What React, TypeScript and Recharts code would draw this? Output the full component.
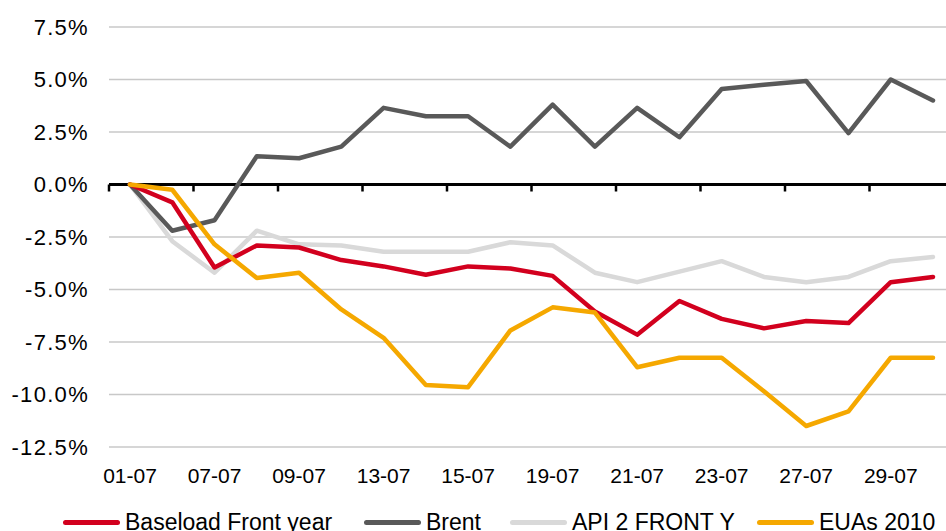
import React from "react";
import { CartesianGrid, Legend, Line, LineChart, ReferenceLine, XAxis, YAxis } from "recharts";

const dates = [
  "01-07", "02-07", "07-07", "08-07", "09-07", "12-07", "13-07", "14-07", "15-07", "16-07",
  "19-07", "20-07", "21-07", "22-07", "23-07", "26-07", "27-07", "28-07", "29-07", "30-07",
];

const baseload = [0, -0.85, -3.95, -2.9, -3.0, -3.6, -3.9, -4.3, -3.9, -4.0, -4.35, -6.05, -7.15, -5.55, -6.4, -6.85, -6.5, -6.6, -4.65, -4.4];
const brent = [0, -2.2, -1.7, 1.35, 1.25, 1.8, 3.65, 3.25, 3.25, 1.8, 3.8, 1.8, 3.65, 2.25, 4.55, 4.75, 4.93, 2.45, 5.0, 4.0];
const api2 = [0, -2.7, -4.2, -2.2, -2.85, -2.9, -3.2, -3.2, -3.2, -2.75, -2.9, -4.2, -4.65, -4.15, -3.65, -4.4, -4.65, -4.4, -3.65, -3.45];
const euas = [0, -0.25, -2.85, -4.45, -4.2, -5.95, -7.3, -9.55, -9.65, -6.95, -5.85, -6.1, -8.7, -8.25, -8.25, -9.85, -11.5, -10.8, -8.25, -8.25];

const yTicks = [-12.5, -10, -7.5, -5, -2.5, 0, 2.5, 5, 7.5];

// legend order as in the original
const series = [
  { key: "baseload", name: "Baseload Front year", color: "#d2001e" },
  { key: "brent", name: "Brent", color: "#595959" },
  { key: "api2", name: "API 2 FRONT Y", color: "#d9d9d9" },
  { key: "euas", name: "EUAs 2010", color: "#f5a800" },
];
const legendLeft = [63, 364, 510, 757];

const data = dates.map((d, i) => ({
  date: d,
  baseload: baseload[i],
  brent: brent[i],
  api2: api2[i],
  euas: euas[i],
}));

const FONT = "'Liberation Sans', Arial, sans-serif";

// black zero axis with a tick mark every two categories
function ZeroAxis(props: any) {
  const { x1, x2, y1 } = props;
  const step = ((x2 - x1) / dates.length) * 2;
  const ticks: number[] = [];
  for (let x = x1; x <= x2 + 0.5; x += step) ticks.push(x);
  return (
    <g>
      <line x1={x1} x2={x2} y1={y1} y2={y1} stroke="#000" strokeWidth={3} />
      {ticks.map((x, i) => (
        <line key={i} x1={x} x2={x} y1={y1} y2={y1 + 7} stroke="#000" strokeWidth={2.5} />
      ))}
    </g>
  );
}

function LegendContent() {
  return (
    <div style={{ position: "relative", width: 946, height: 28, fontFamily: FONT }}>
      {series.map((s, i) => (
        <div
          key={s.key}
          style={{
            position: "absolute",
            left: legendLeft[i],
            top: 0,
            height: 28,
            display: "flex",
            alignItems: "center",
            whiteSpace: "nowrap",
          }}
        >
          <span style={{ display: "inline-block", width: 57, height: 5, borderRadius: 3, background: s.color, marginRight: 5 }} />
          <span style={{ fontSize: 23, lineHeight: "23px", color: "#000" }}>{s.name}</span>
        </div>
      ))}
    </div>
  );
}

export default function App() {
  const tickStyle = { fill: "#000", fontSize: 22, fontFamily: FONT };
  return (
    <div style={{ position: "absolute", left: 0, top: 0, width: 946, height: 531, overflow: "hidden", background: "#fff" }}>
      <LineChart width={960} height={531} data={data} margin={{ top: 27, right: 6, left: 0, bottom: 44 }}>
        <CartesianGrid stroke="#c8c8c8" strokeWidth={1.5} vertical={false} />
        <XAxis
          dataKey="date"
          interval={1}
          padding={{ left: 21, right: 21 }}
          axisLine={false}
          tickLine={false}
          tickSize={0}
          tickMargin={21}
          height={40}
          tick={{ ...tickStyle, fontSize: 21 }}
        />
        <YAxis
          domain={[-12.5, 7.5]}
          ticks={yTicks}
          width={109}
          axisLine={false}
          tickLine={false}
          tickSize={0}
          tickMargin={20}
          tick={{ ...tickStyle, letterSpacing: 1.3 }}
          tickFormatter={(v: number) => `${v.toFixed(1)}%`}
        />
        <ReferenceLine y={0} shape={(p: any) => <ZeroAxis {...p} />} />
        <Line dataKey="api2" name="API 2 FRONT Y" stroke="#d9d9d9" strokeWidth={4.5} dot={false} strokeLinejoin="round" strokeLinecap="round" isAnimationActive={false} />
        <Line dataKey="brent" name="Brent" stroke="#595959" strokeWidth={4.5} dot={false} strokeLinejoin="round" strokeLinecap="round" isAnimationActive={false} />
        <Line dataKey="baseload" name="Baseload Front year" stroke="#d2001e" strokeWidth={4.5} dot={false} strokeLinejoin="round" strokeLinecap="round" isAnimationActive={false} />
        <Line dataKey="euas" name="EUAs 2010" stroke="#f5a800" strokeWidth={4.5} dot={false} strokeLinejoin="round" strokeLinecap="round" isAnimationActive={false} />
        <Legend verticalAlign="middle" layout="horizontal" wrapperStyle={{ top: 508, left: 0, width: 946 }} content={() => <LegendContent />} />
      </LineChart>
    </div>
  );
}
